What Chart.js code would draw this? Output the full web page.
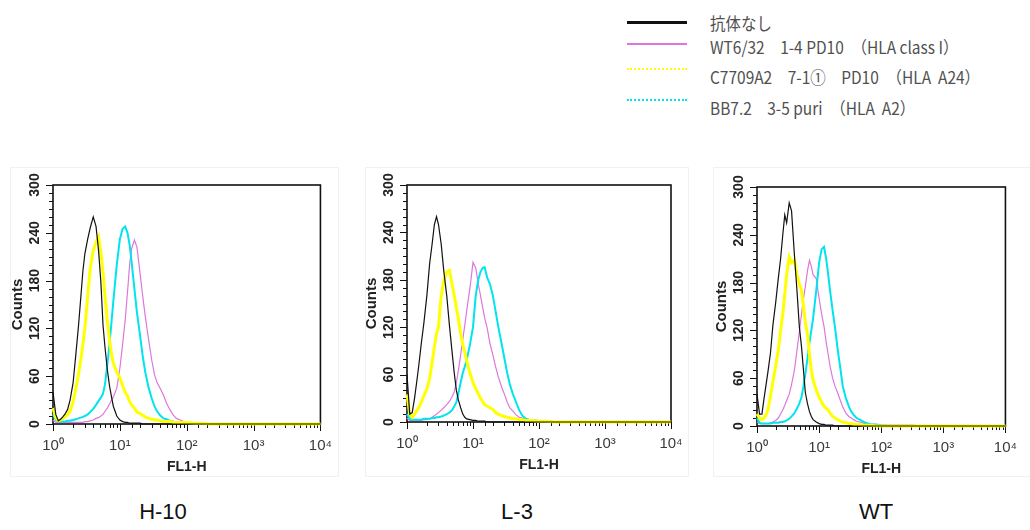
<!DOCTYPE html>
<html lang="ja">
<head>
<meta charset="utf-8">
<title>FL1-H histograms</title>
<script src="https://cdn.jsdelivr.net/npm/chart.js@4.4.1/dist/chart.umd.min.js"></script>
<style>
  body { margin: 0; width: 1030px; height: 530px; background: #fff; position: relative; overflow: hidden;
         font-family: "Liberation Sans", Arial, sans-serif; }
  .frame { position: absolute; border: 1px solid #f1f1f1; }
  .panel { position: absolute; top: 160px; }
  .panel canvas { display: block; }
  .tag { position: absolute; top: 499px; font-size: 22px; line-height: 26px; color: #111; transform: translateX(-50%); }
  #legend { position: absolute; left: 627px; top: 0; width: 400px; height: 130px; }
  .swatch { position: absolute; left: 0; width: 60px; height: 0; }
  .ltext { position: absolute; left: 83px; white-space: pre; font-family: "Noto Sans CJK JP", sans-serif;
           font-size: 17px; line-height: 20px; color: #505050; transform: scaleX(0.91); transform-origin: left center; }
</style>
</head>
<body>
<div id="legend"></div>

<div class="frame" style="left:10px;top:167px;width:327px;height:308px"></div>
<div class="frame" style="left:365px;top:167px;width:322px;height:308px"></div>
<div class="frame" style="left:713px;top:167px;width:320px;height:308px"></div>

<div class="panel" style="left:0px"><canvas id="chartH10" width="345" height="320"></canvas></div>
<div class="panel" style="left:355px"><canvas id="chartL3" width="345" height="320"></canvas></div>
<div class="panel" style="left:700px"><canvas id="chartWT" width="330" height="320"></canvas></div>

<div class="tag" style="left:163px">H-10</div>
<div class="tag" style="left:517px">L-3</div>
<div class="tag" style="left:876px">WT</div>

<script>
// FL1-H channel values shared by every histogram
const channels = [1, 1.1, 1.2, 1.3, 1.4, 1.5, 1.65, 1.8, 2.0, 2.2,
  2.4, 2.6, 2.8, 3.0, 3.3, 3.6, 4.0, 4.4, 4.8, 5.2,
  5.6, 6.0, 6.5, 7.0, 7.5, 8.0, 9.0, 10, 11, 12,
  13, 14, 15, 16.5, 18, 20, 22, 24, 27, 30,
  33, 36, 40, 45, 50, 56, 63, 70, 80, 90,
  100, 130, 170, 230, 320, 450, 700, 1000, 2000, 5000,
  10000];

// H-10
const h10None  = [40,12,4,6,9,12,18,30,52,88, 122,158,192,214,232,246,260,248,218,178, 124,96,68,48,34,22,10,5,3,2, 2,1,1,1,1,1,0,0,0,0, 0,0,0,0,0,0,0,0,0,0, 0,0,0,0,0,0,0,0,0,0, 0];
const h10Wt632 = [5,2,2,2,2,2,2,2,2,2, 2,2,2,3,3,4,5,7,8,10, 12,16,20,25,30,34,45,70,100,130, 165,200,220,231,222,190,160,135,105,80, 62,52,45,36,26,18,11,7,5,3, 2,1,0,0,0,0,0,0,0,0, 0];
const h10C7709 = [20,8,4,5,7,9,12,16,28,45, 62,80,100,120,160,195,218,228,235,215, 190,160,128,105,88,76,65,58,48,40, 35,28,24,20,15,13,11,9,7,6, 5,5,4,3,3,3,2,2,2,2, 2,1,1,0,0,0,0,0,0,0, 0];
const h10Bb72  = [12,5,3,3,3,3,4,4,5,6, 7,8,9,10,12,15,19,24,29,33, 38,50,75,100,128,155,200,232,245,248, 240,225,203,170,140,112,85,65,45,32, 22,16,11,7,6,4,3,2,2,1, 1,1,0,0,0,0,0,0,0,0, 0];

// L-3
const l3None  = [60,10,12,30,50,70,100,125,160,200, 225,250,260,250,225,192,160,122,90,62, 40,28,18,10,6,4,3,2,2,1, 1,1,1,0,0,0,0,0,0,0, 0,0,0,0,0,0,0,0,0,0, 0,0,0,0,0,0,0,0,0,0, 0];
const l3Wt632 = [5,2,2,2,2,2,2,3,3,4, 6,8,10,12,15,18,22,26,32,38, 50,65,85,105,122,140,170,202,195,175, 160,145,132,118,100,85,70,58,45,35, 25,18,14,9,6,5,3,2,2,1, 1,0,0,0,0,0,0,0,0,0, 0];
const l3C7709 = [35,10,6,10,14,18,25,33,42,55, 75,95,112,120,160,178,190,192,175,160, 145,130,112,98,88,78,62,50,42,36, 30,26,22,20,18,16,12,10,8,7, 6,5,4,4,3,3,2,2,2,1, 1,1,0,0,0,0,0,0,0,0, 0];
const l3Bb72  = [10,4,3,3,3,3,3,4,4,4, 5,5,6,6,7,8,10,12,15,20, 25,36,50,62,70,78,98,120,160,180, 190,195,196,182,175,160,140,122,100,80, 62,48,36,25,15,8,4,3,2,2, 1,1,0,0,0,0,0,0,0,0, 0];

// WT
const wtNone  = [40,15,15,35,52,68,92,126,155,185, 210,240,265,255,280,270,215,170,125,100, 70,42,28,18,12,8,5,3,2,2, 1,1,1,1,0,0,0,0,0,0, 0,0,0,0,0,0,0,0,0,0, 0,0,0,0,0,0,0,0,0,0, 0];
const wtWt632 = [5,3,3,3,3,3,4,5,7,10, 15,20,26,32,40,52,70,95,118,140, 160,175,195,208,200,190,185,160,140,125, 105,90,75,60,50,41,32,24,16,12, 10,8,6,5,4,3,3,2,2,2, 1,1,1,1,1,0,0,0,0,0, 0];
const wtC7709 = [15,10,8,10,14,20,38,55,75,95, 120,140,165,190,212,205,208,190,178,170, 150,130,115,90,70,58,45,36,30,25, 22,20,16,12,10,8,6,5,4,3, 3,2,2,2,1,1,1,1,0,0, 0,0,0,0,0,0,0,0,0,0, 0];
const wtBb72  = [10,4,3,3,3,3,3,4,4,4, 5,5,6,7,9,12,16,22,28,36, 50,65,85,105,120,135,170,205,222,225, 210,190,170,145,124,95,72,50,35,25, 18,14,10,8,6,4,3,2,2,1, 1,0,0,0,0,0,0,0,0,0, 0];

const seriesLabels = ['抗体なし', 'WT6/32　1-4 PD10　（HLA class I）', 'C7709A2　7-1①　PD10　（HLA  A24）', 'BB7.2　3-5 puri　（HLA  A2）'];
const xDecades = [1, 10, 100, 1000, 10000];
const xTickLabels = ['10⁰', '10¹', '10²', '10³', '10⁴'];
const yMajor = [0, 60, 120, 180, 240, 300];

const lineStyles = [
  { color: '#111111', width: 1.2, legend: '3px solid' },
  { color: '#dd77dd', width: 1.2, legend: '2px solid' },
  { color: '#ffff00', width: 3, legend: '2px dotted' },
  { color: '#00e4ee', width: 2, legend: '2px dotted' },
];
const drawOrder = [0, 3, 1, 2];

// legend
const legendLineY = [21, 43, 68, 99];
const legendTextY = [23, 47, 77, 108];
const legend = document.getElementById('legend');
seriesLabels.forEach((label, i) => {
  const sw = document.createElement('div');
  sw.className = 'swatch';
  sw.style.top = legendLineY[i] + 'px';
  sw.style.borderTop = lineStyles[i].legend + ' ' + lineStyles[i].color;
  legend.appendChild(sw);
  const tx = document.createElement('div');
  tx.className = 'ltext';
  tx.style.top = (legendTextY[i] - 10) + 'px';
  tx.textContent = label;
  legend.appendChild(tx);
});

// box around the plot plus minor/major tick marks
const axisFrame = {
  id: 'axisFrame',
  beforeDatasetsDraw(chart) {
    const { ctx, chartArea: a, scales: { x, y } } = chart;
    ctx.save();
    ctx.strokeStyle = '#111';
    ctx.lineWidth = 1.6;
    ctx.strokeRect(a.left, a.top, a.right - a.left, a.bottom - a.top);
    ctx.lineWidth = 1;
    ctx.beginPath();
    x.ticks.forEach(t => {
      const px = Math.round(x.getPixelForValue(t.value)) + 0.5;
      const len = xDecades.includes(t.value) ? 7 : 4;
      ctx.moveTo(px, a.bottom);
      ctx.lineTo(px, a.bottom + len);
    });
    y.ticks.forEach(t => {
      const py = Math.round(y.getPixelForValue(t.value)) + 0.5;
      const len = yMajor.includes(t.value) ? 7 : 4;
      ctx.moveTo(a.left - len, py);
      ctx.lineTo(a.left, py);
    });
    ctx.stroke();
    ctx.restore();
  }
};

Chart.defaults.font.family = '"Liberation Sans", Arial, sans-serif';

function drawPanel(canvasId, series, pad) {
  const ctx = document.getElementById(canvasId).getContext('2d');
  return new Chart(ctx, {
    type: 'scatter',
    data: {
      datasets: series.map((counts, i) => ({
        label: seriesLabels[i],
        data: channels.map((c, j) => ({ x: c, y: counts[j] })),
        showLine: true,
        borderColor: lineStyles[i].color,
        borderWidth: lineStyles[i].width,
        pointRadius: 0,
        tension: 0,
        order: drawOrder[i],
        clip: 4
      }))
    },
    options: {
      responsive: false,
      animation: false,
      layout: { padding: pad },
      plugins: { legend: { display: false }, tooltip: { enabled: false } },
      scales: {
        x: {
          type: 'logarithmic', min: 1, max: 10000,
          grid: { display: false, drawTicks: false }, border: { display: false },
          ticks: {
            autoSkip: false, maxRotation: 0, padding: 13, color: '#3a3a3a', font: { size: 15 },
            callback: v => { const k = xDecades.indexOf(v); return k < 0 ? '' : xTickLabels[k]; }
          },
          title: { display: true, text: 'FL1-H', color: '#222', font: { size: 14, weight: 'bold' }, padding: 0 },
          afterFit: s => { s.height = 52; }
        },
        y: {
          min: 0, max: 300,
          grid: { display: false, drawTicks: false }, border: { display: false },
          ticks: {
            stepSize: 10, autoSkip: false, minRotation: 90, maxRotation: 90, crossAlign: 'center',
            padding: 6, color: '#222', font: { size: 14, weight: 'bold' },
            callback: v => yMajor.includes(v) ? String(v) : ''
          },
          title: { display: true, text: 'Counts', color: '#222', font: { size: 15, weight: 'bold' }, padding: { top: 0 } },
          afterFit: s => { s.width = 44; }
        }
      }
    },
    plugins: [axisFrame]
  });
}

drawPanel('chartH10', [h10None, h10Wt632, h10C7709, h10Bb72], { left: 9, right: 23, top: 25, bottom: 4 });
drawPanel('chartL3', [l3None, l3Wt632, l3C7709, l3Bb72], { left: 8, right: 29, top: 25, bottom: 6 });
drawPanel('chartWT', [wtNone, wtWt632, wtC7709, wtBb72], { left: 13, right: 7, top: 27, bottom: 2 });
</script>
</body>
</html>
